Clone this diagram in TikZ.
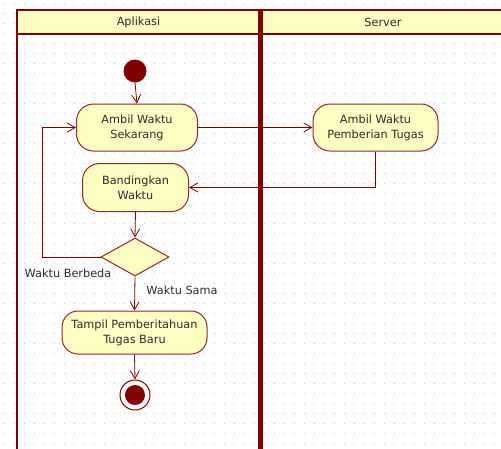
\documentclass[tikz,border=0pt]{standalone}
\usepackage{fontspec}
\setmainfont{DejaVu Sans}
\usetikzlibrary{arrows.meta,shapes.geometric}
\definecolor{edgec}{HTML}{800000}
\definecolor{fillc}{HTML}{FFFFC4}
\definecolor{dotc}{HTML}{C4C4C4}
\definecolor{txtc}{HTML}{2A2A2A}
\tikzset{
  lbl/.style={font=\fontsize{11.3}{15}\selectfont, text=txtc},
  act/.style={lbl, draw=edgec!85!white, fill=fillc, line width=1pt,
    rounded corners=17pt, align=center, inner sep=0pt},
  choice/.style={draw=edgec!85!white, fill=fillc, line width=1pt, diamond,
    aspect=1.8, inner sep=0pt, minimum width=68pt, minimum height=38pt},
  flow/.style={draw=edgec, line width=0.8pt,
    -{Straight Barb[length=8pt,width=9pt,line width=0.8pt]}},
  lane/.style={draw=edgec, line width=2.2pt},
}
\begin{document}
\begin{tikzpicture}[x=1pt,y=-1pt]
\useasboundingbox (0,0) rectangle (501,448);
\begin{scope}
\clip (0,0) rectangle (501,448);
% dotted background grid
\foreach \gx in {4,14,...,494}{
  \foreach \gy in {3,13,...,443}{
    \fill[dotc] (\gx,\gy) rectangle ++(1,1);
  }
}
% swimlane headers
\fill[fillc] (17,10) rectangle (506,34);
\draw[lane] (17,460) -- (17,10) -- (506,10) -- (506,460);
\draw[lane] (17,34) -- (506,34);
\draw[edgec, line width=4.5pt] (260.5,10) -- (260.5,460);
\node[lbl] (laneA) at (138.5,22.5) {Aplikasi};
\node[lbl] (laneS) at (383,22.5) {Server};
\end{scope}

% activity nodes
\fill[edgec] (135,71) circle (11.5pt);
\coordinate (startc) at (135,71);
\node[act, minimum width=121pt, minimum height=47pt] (ambil) at (137,127.5)
  {Ambil Waktu\\Sekarang};
\node[act, minimum width=106pt, minimum height=48pt] (banding) at (135.5,187.5)
  {Bandingkan\\Waktu};
\node[act, minimum width=125pt, minimum height=47pt] (server) at (375.5,127.5)
  {Ambil Waktu\\Pemberian Tugas};
\node[choice] (dec) at (135,257) {};
\node[act, minimum width=145pt, minimum height=43pt, rounded corners=16pt] (tampil)
  at (134.5,332.5) {Tampil Pemberitahuan\\Tugas Baru};
\node[circle, draw=edgec, line width=1pt, fill=white, minimum size=30pt,
  inner sep=0pt] (endn) at (135,395) {};
\fill[edgec] (endn.center) circle (10pt);

% flows
\draw[flow] (135,82.5) -- (ambil.north);
\draw[flow] (ambil.east) -- (server.west);
\draw[flow] (server.south) |- (banding.east);
\draw[flow] (banding.south) -- (dec.north);
\draw[flow] (dec.west) -- (42,257) |- (ambil.west);
\draw[flow] (dec.south) -- (tampil.north);
\draw[flow] (tampil.south) -- (endn.north);

% guards
\node[lbl] (gdiff) at (68,273.5) {Waktu Berbeda};
\node[lbl] (gsame) at (182,290) {Waktu Sama};
\end{tikzpicture}
\end{document}
